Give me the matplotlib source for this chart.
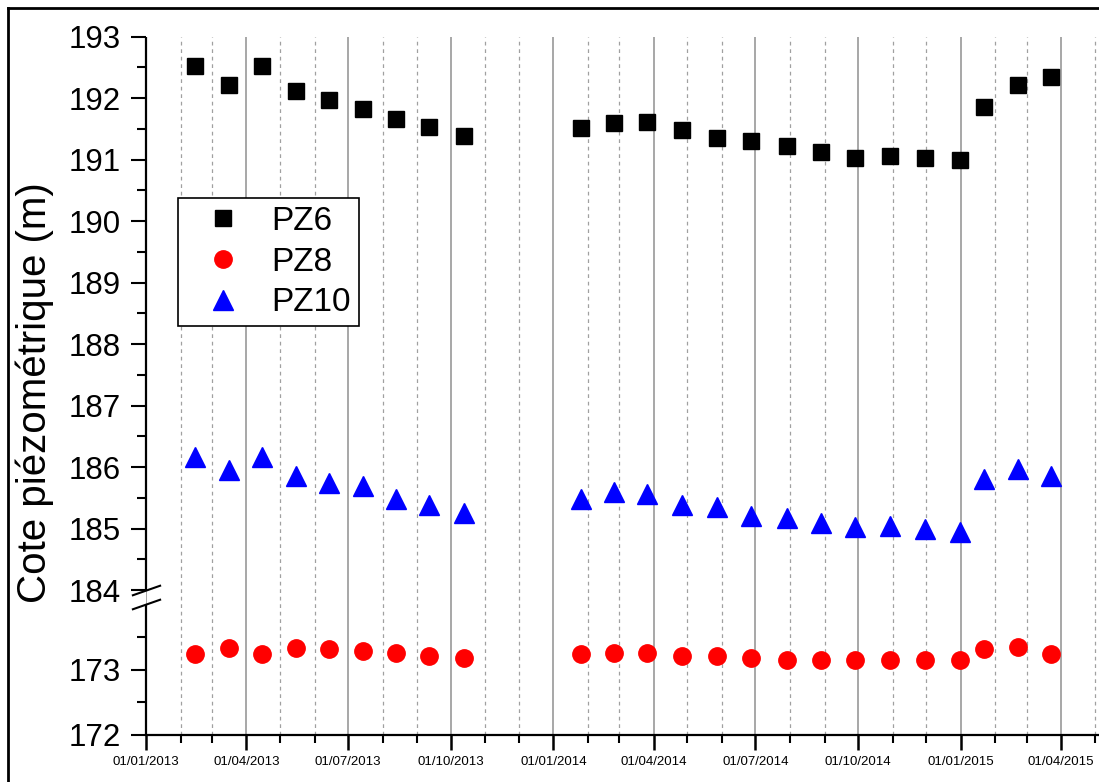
import numpy as np
import pandas as pd
import matplotlib
matplotlib.use('Agg')
import matplotlib.pyplot as plt
import matplotlib.dates as mdates
import matplotlib.ticker as mticker
from matplotlib.lines import Line2D

plt.rcParams['font.family'] = ['Liberation Sans', 'DejaVu Sans']

# dates des mesures piezometriques
dates = pd.to_datetime([
    '14/02/2013', '16/03/2013', '15/04/2013', '15/05/2013', '14/06/2013',
    '14/07/2013', '13/08/2013', '12/09/2013', '13/10/2013',
    '26/01/2014', '24/02/2014', '26/03/2014', '26/04/2014', '28/05/2014',
    '27/06/2014', '29/07/2014', '29/08/2014', '28/09/2014', '30/10/2014',
    '30/11/2014', '31/12/2014',
    '22/01/2015', '21/02/2015', '23/03/2015'], format='%d/%m/%Y')

pz6 = [192.52, 192.21, 192.52, 192.12, 191.97, 191.83, 191.66, 191.53, 191.38,
       191.51, 191.60, 191.62, 191.48, 191.36, 191.30, 191.22, 191.12, 191.03,
       191.06, 191.03, 190.99, 191.86, 192.21, 192.35]
pz8 = [173.23, 173.33, 173.23, 173.33, 173.31, 173.28, 173.25, 173.20, 173.17,
       173.23, 173.25, 173.25, 173.20, 173.20, 173.17, 173.15, 173.15, 173.15,
       173.15, 173.15, 173.14, 173.32, 173.34, 173.23]
pz10 = [186.16, 185.96, 186.16, 185.86, 185.75, 185.69, 185.49, 185.38, 185.25,
        185.48, 185.59, 185.57, 185.39, 185.35, 185.21, 185.17, 185.09, 185.03,
        185.05, 184.99, 184.95, 185.80, 185.97, 185.86]

# axe y coupe entre 174 et 184
brk_val = np.array([172.0, 174.0, 184.0, 193.0])
brk_pos = np.array([0.0, 131.0, 144.8, 698.3])


def piecewise(x, xp, fp):
    x = np.asarray(x, dtype=float)
    y = np.interp(x, xp, fp)
    s0 = (fp[1] - fp[0]) / (xp[1] - xp[0])
    s1 = (fp[-1] - fp[-2]) / (xp[-1] - xp[-2])
    y = np.where(x < xp[0], fp[0] + (x - xp[0]) * s0, y)
    y = np.where(x > xp[-1], fp[-1] + (x - xp[-1]) * s1, y)
    return y


def forward(v):
    return piecewise(v, brk_val, brk_pos)


def inverse(p):
    return piecewise(p, brk_pos, brk_val)


fig = plt.figure(figsize=(10.99, 7.82), dpi=100)
ax = fig.add_axes([146 / 1099, 1 - 735 / 782, 952 / 1099, 698.3 / 782])

ax.plot(dates, pz6, 's', color='black', ms=11, label='PZ6', clip_on=False, zorder=3)
ax.plot(dates, pz8, 'o', color='red', ms=12.5, label='PZ8', clip_on=False, zorder=3)
ax.plot(dates, pz10, '^', color='blue', ms=14.5, label='PZ10', clip_on=False, zorder=3)

ax.set_yscale('function', functions=(forward, inverse))
ax.set_ylim(172, 193)
ax.set_xlim(pd.Timestamp('2013-01-01'), pd.Timestamp('2015-05-04'))

major_y = [172, 173] + list(range(184, 194))
minor_y = [172.5, 173.5] + [v + 0.5 for v in range(184, 193)]
ax.yaxis.set_major_locator(mticker.FixedLocator(major_y))
ax.yaxis.set_minor_locator(mticker.FixedLocator(minor_y))
ax.yaxis.set_major_formatter(mticker.FormatStrFormatter('%d'))
ax.yaxis.set_minor_formatter(mticker.NullFormatter())

ax.xaxis.set_major_locator(mdates.MonthLocator(bymonth=[1, 4, 7, 10]))
ax.xaxis.set_minor_locator(mdates.MonthLocator())
ax.xaxis.set_major_formatter(mdates.DateFormatter('%d/%m/%Y'))

ax.tick_params(axis='y', which='major', direction='out', length=11, width=1.5,
               labelsize=22.5, pad=7)
ax.tick_params(axis='y', which='minor', direction='out', length=6.5, width=1.5)
ax.tick_params(axis='x', which='major', direction='out', length=11, width=1.8,
               labelsize=9.5, pad=4)
ax.tick_params(axis='x', which='minor', direction='out', length=6, width=1.5)

ax.grid(True, axis='x', which='major', color='#a0a0a0', lw=1.3, ls='-')
ax.grid(True, axis='x', which='minor', color='#a0a0a0', lw=0.9, ls=(0, (3, 3)))
ax.set_axisbelow(True)

for side in ['top', 'right', 'left']:
    ax.spines[side].set_visible(False)
ax.spines['bottom'].set_linewidth(1.6)

# axe gauche en deux morceaux avec marques de coupure
trans = ax.get_yaxis_transform()
ax.plot([0, 0], [184, 193], transform=trans, color='black', lw=1.6,
        clip_on=False, solid_capstyle='butt', zorder=4)
ax.plot([0, 0], [172, 174], transform=trans, color='black', lw=1.6,
        clip_on=False, solid_capstyle='butt', zorder=4)
for yb in [184, 174]:
    ax.plot([0], [yb], transform=trans, marker=[(-1, -0.35), (1, 0.35)],
            ms=21, mew=1.5, color='black', clip_on=False, zorder=4)

ax.set_ylabel('Cote piézométrique (m)', fontsize=29)
ax.yaxis.set_label_coords(-0.097, 0.49)

leg = ax.legend(loc='upper left', bbox_to_anchor=(178 / 1099, 1 - 198 / 782),
                bbox_transform=fig.transFigure, fontsize=24, frameon=True,
                fancybox=False, framealpha=1, edgecolor='black',
                borderpad=0.24, labelspacing=0.29, handlelength=2.2,
                handletextpad=0.36, borderaxespad=0)
leg.get_frame().set_linewidth(1.2)

# cadre de la figure
fig.add_artist(Line2D([8 / 1099, 1], [1 - 8 / 782, 1 - 8 / 782],
                      transform=fig.transFigure, color='black', lw=2))
fig.add_artist(Line2D([8 / 1099, 8 / 1099], [0, 1 - 8 / 782],
                      transform=fig.transFigure, color='black', lw=2))

fig.savefig('out.png', dpi=100)
